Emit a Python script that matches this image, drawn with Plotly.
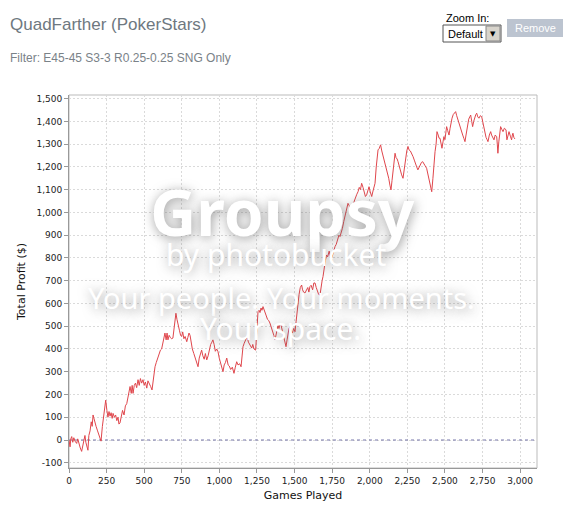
import plotly.graph_objects as go

# ---- data ----
games = [0,7,12,18,25,32,40,51,58,66,75,84,92,100,106,112,120,126,132,140,148,154,160,170,180,190,200,213,222,230,238,244,252,259,266,273,280,287,293,302,310,318,326,332,339,348,356,366,375,384,392,400,406,414,420,426,434,442,450,459,467,475,483,492,500,508,517,525,533,543,552,560,568,572,580,590,600,608,616,624,630,638,646,652,658,666,674,683,691,698,704,711,718,726,735,742,749,756,764,772,783,790,798,805,812,820,830,838,846,852,858,866,874,882,890,899,907,916,925,934,942,950,957,965,973,982,991,999,1008,1017,1024,1032,1040,1049,1058,1066,1075,1086,1097,1106,1115,1124,1135,1144,1150,1157,1165,1175,1184,1193,1202,1208,1215,1222,1230,1241,1247,1252,1257,1264,1270,1277,1283,1290,1297,1305,1312,1320,1328,1336,1344,1352,1362,1370,1378,1385,1390,1396,1403,1410,1418,1426,1435,1443,1450,1457,1463,1469,1478,1486,1494,1503,1510,1517,1523,1530,1538,1547,1553,1560,1569,1578,1588,1595,1602,1610,1620,1628,1636,1644,1652,1660,1669,1676,1683,1689,1697,1705,1713,1720,1730,1740,1747,1755,1762,1769,1777,1785,1795,1802,1810,1818,1827,1835,1845,1855,1863,1872,1880,1888,1897,1905,1914,1922,1930,1938,1946,1955,1963,1971,1979,1987,1995,2003,2013,2020,2028,2035,2043,2049,2055,2062,2072,2080,2088,2095,2101,2110,2118,2126,2134,2141,2148,2155,2162,2168,2175,2182,2188,2196,2204,2212,2221,2230,2238,2246,2254,2261,2270,2279,2288,2296,2304,2312,2320,2328,2336,2344,2352,2360,2368,2378,2386,2394,2402,2412,2420,2427,2434,2441,2447,2455,2461,2467,2474,2480,2487,2493,2500,2505,2511,2518,2527,2534,2541,2547,2555,2563,2571,2578,2586,2594,2603,2611,2618,2626,2633,2640,2646,2651,2658,2665,2671,2678,2684,2691,2698,2705,2711,2718,2726,2735,2744,2750,2759,2766,2773,2780,2786,2795,2804,2810,2818,2826,2834,2844,2848,2852,2858,2864,2870,2878,2886,2895,2906,2912,2919,2926,2935,2943,2948,2952,2958,2965]
profit = [0,-30,5,15,-10,10,-5,-15,5,-20,-35,-50,-20,0,20,-10,-35,-45,20,40,80,60,110,80,60,40,20,-5,60,110,140,175,130,100,125,105,120,95,117,100,110,85,100,70,75,110,130,110,150,160,190,220,235,205,240,205,240,250,230,265,240,270,250,265,240,255,228,260,245,235,220,270,300,322,340,360,380,395,400,430,450,470,440,470,440,460,450,445,448,480,510,557,530,500,480,460,455,475,445,455,432,450,470,460,430,400,380,366,350,340,322,360,380,395,370,355,380,352,370,400,420,430,440,420,390,400,388,360,340,320,300,330,340,360,330,325,310,320,293,320,344,330,335,322,370,410,425,440,454,430,420,410,404,420,400,395,480,520,564,570,560,580,570,586,575,560,545,530,525,514,500,480,460,440,470,500,505,490,510,505,480,460,430,410,440,470,490,498,480,470,490,476,520,570,602,640,670,681,660,650,646,660,670,650,674,680,660,690,690,670,650,640,637,680,700,718,760,790,813,805,830,800,800,820,840,850,860,880,900,894,910,930,960,981,1010,1040,1030,1010,1020,1026,1050,1070,1080,1091,1110,1100,1128,1110,1090,1070,1077,1100,1113,1090,1070,1090,1110,1128,1200,1250,1275,1280,1297,1270,1250,1240,1223,1190,1170,1150,1120,1099,1140,1190,1230,1260,1240,1235,1223,1200,1180,1165,1150,1200,1240,1270,1290,1275,1270,1260,1245,1230,1210,1200,1187,1200,1215,1220,1223,1210,1205,1194,1170,1140,1110,1091,1150,1220,1267,1300,1355,1340,1326,1326,1300,1282,1310,1333,1320,1350,1377,1360,1340,1370,1400,1414,1430,1440,1443,1425,1406,1390,1370,1355,1340,1325,1311,1340,1370,1392,1410,1420,1428,1400,1377,1400,1420,1430,1436,1420,1414,1425,1421,1400,1363,1350,1330,1320,1311,1340,1355,1340,1330,1319,1340,1333,1300,1260,1310,1350,1377,1365,1355,1370,1363,1319,1340,1355,1335,1319,1340,1348,1330,1323]

x_ticks = [0, 250, 500, 750, 1000, 1250, 1500, 1750, 2000, 2250, 2500, 2750, 3000]
y_ticks = [-100, 0, 100, 200, 300, 400, 500, 600, 700, 800, 900, 1000, 1100, 1200, 1300, 1400, 1500]

title_text = "QuadFarther (PokerStars)"
subtitle_text = "Filter: E45-45 S3-3 R0.25-0.25 SNG Only"

W, H = 564, 516
L, R, T, B = 69, 27, 95, 48
PW, PH = W - L - R, H - T - B

def px(x):
    return (x - L) / PW

def py(y):
    return (H - B - y) / PH

fig = go.Figure()
fig.add_trace(go.Scatter(x=[0, 3112], y=[0, 0], mode="lines",
                         line=dict(color="#7777aa", width=1, dash="dot"),
                         hoverinfo="skip", showlegend=False))
fig.add_trace(go.Scatter(x=games, y=profit, mode="lines",
                         line=dict(color="#e0464c", width=1),
                         showlegend=False))

tickfont = dict(family="DejaVu Sans, Verdana", size=9, color="#222222")
fig.update_xaxes(range=[0, 3112], tickvals=x_ticks,
                 ticktext=[f"{v:,}" for v in x_ticks],
                 showgrid=True, gridcolor="#dadada", griddash="2px,2px", gridwidth=1,
                 zeroline=False, showline=True, linecolor="#999999", linewidth=1,
                 mirror=False, ticks="outside", ticklen=4, tickcolor="#999999",
                 tickfont=tickfont,
                 title=dict(text="Games Played",
                            font=dict(family="DejaVu Sans", size=11, color="#111111"),
                            standoff=6))
fig.update_yaxes(range=[-123, 1516], tickvals=y_ticks,
                 ticktext=[f"{v:,}" for v in y_ticks],
                 showgrid=True, gridcolor="#dadada", griddash="2px,2px", gridwidth=1,
                 zeroline=False, showline=True, linecolor="#999999", linewidth=1,
                 mirror=False, ticks="outside", ticklen=4, tickcolor="#999999",
                 tickfont=tickfont,
                 title=dict(text="Total Profit ($)",
                            font=dict(family="DejaVu Sans", size=11, color="#111111"),
                            standoff=8))

shapes = [
    dict(type="rect", xref="paper", yref="paper", x0=0, y0=0, x1=1, y1=1,
         line=dict(color="#bbbbbb", width=1), layer="below"),
    dict(type="rect", xref="paper", yref="paper", x0=px(443), x1=px(501),
         y0=py(42), y1=py(25), line=dict(color="#555555", width=1), fillcolor="#ffffff"),
    dict(type="rect", xref="paper", yref="paper", x0=px(486), x1=px(500),
         y0=py(41), y1=py(26), line=dict(color="#888888", width=1), fillcolor="#d8d4cc"),
    dict(type="rect", xref="paper", yref="paper", x0=px(507), x1=px(563),
         y0=py(37), y1=py(19), line=dict(width=0), fillcolor="#bcc4d0"),
]

shadow = "1px 2px 12px rgba(100,100,100,0.65)"
annotations = [
    dict(text=title_text, xref="paper", yref="paper", x=px(8), y=py(13),
         xanchor="left", yanchor="top", showarrow=False,
         font=dict(family="Liberation Sans, Arial", size=17, color="#6e7880")),
    dict(text=subtitle_text, xref="paper", yref="paper", x=px(8), y=py(49),
         xanchor="left", yanchor="top", showarrow=False,
         font=dict(family="Liberation Sans, Arial", size=12, color="#7a8288")),
    dict(text="Zoom In:", xref="paper", yref="paper", x=px(444), y=py(10),
         xanchor="left", yanchor="top", showarrow=False,
         font=dict(family="Liberation Sans, Arial", size=11, color="#000000")),
    dict(text="Default", xref="paper", yref="paper", x=px(446), y=py(33.5),
         xanchor="left", yanchor="middle", showarrow=False,
         font=dict(family="Liberation Sans, Arial", size=11, color="#000000")),
    dict(text="▼", xref="paper", yref="paper", x=px(493), y=py(33.5),
         xanchor="center", yanchor="middle", showarrow=False,
         font=dict(family="DejaVu Sans", size=7, color="#000000")),
    dict(text="Remove", xref="paper", yref="paper", x=px(535), y=py(28),
         xanchor="center", yanchor="middle", showarrow=False,
         font=dict(family="Liberation Sans, Arial", size=11, color="#ffffff")),
    # photobucket watermark overlay
    dict(text="<b>Groupsy</b>", xref="paper", yref="paper", x=px(282), y=py(211),
         xanchor="center", yanchor="middle", showarrow=False,
         font=dict(family="Noto Sans", size=64, color="#ffffff", shadow=shadow)),
    dict(text="by photobucket", xref="paper", yref="paper", x=px(276), y=py(255),
         xanchor="center", yanchor="middle", showarrow=False,
         font=dict(family="Noto Sans", size=30, color="#ffffff", shadow=shadow)),
    dict(text="Your people. Your moments.", xref="paper", yref="paper", x=px(281), y=py(297),
         xanchor="center", yanchor="middle", showarrow=False,
         font=dict(family="Noto Sans", size=29, color="#ffffff", shadow=shadow)),
    dict(text="Your space.", xref="paper", yref="paper", x=px(280), y=py(328),
         xanchor="center", yanchor="middle", showarrow=False,
         font=dict(family="Noto Sans", size=30, color="#ffffff", shadow=shadow)),
]

fig.update_layout(width=W, height=H, margin=dict(l=L, r=R, t=T, b=B),
                  paper_bgcolor="#ffffff", plot_bgcolor="#ffffff",
                  shapes=shapes, annotations=annotations, showlegend=False)

fig.write_html("out.html", config={"displayModeBar": False},
               post_script="document.body.style.margin='0px';")
